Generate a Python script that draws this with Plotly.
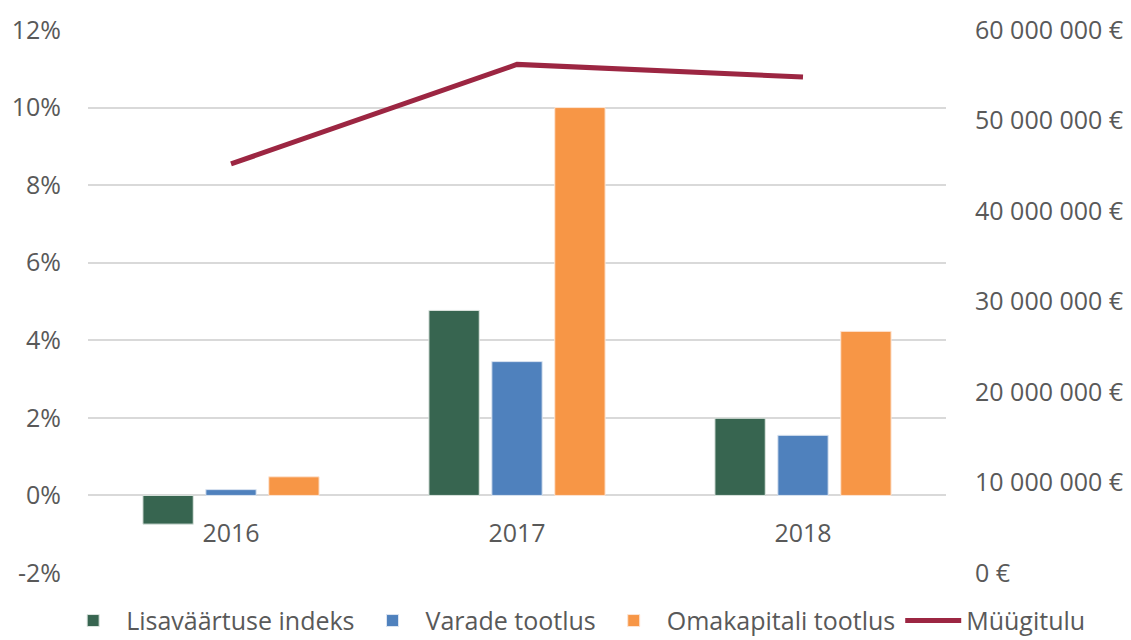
import plotly.graph_objects as go

years = ["2016", "2017", "2018"]
lisavaartuse = [-0.74, 4.77, 1.99]
varade = [0.15, 3.45, 1.55]
omakapitali = [0.48, 10.0, 4.23]
myygitulu = [45.2e6, 56.2e6, 54.8e6]

left_vals = [-2, 0, 2, 4, 6, 8, 10, 12]
left_text = ["-2%", "0%", "2%", "4%", "6%", "8%", "10%", "12%"]
right_vals = [0, 10e6, 20e6, 30e6, 40e6, 50e6, 60e6]
right_text = ["0 €", "10 000 000 €", "20 000 000 €", "30 000 000 €",
              "40 000 000 €", "50 000 000 €", "60 000 000 €"]

FONT = "Open Sans"
TXT = "#595959"
FS = 25

fig = go.Figure()
fig.add_trace(go.Bar(x=years, y=lisavaartuse, name="Lisaväärtuse indeks",
                     marker=dict(color="#376550", line=dict(color="#DDE5E0", width=1))))
fig.add_trace(go.Bar(x=years, y=varade, name="Varade tootlus",
                     marker=dict(color="#4F81BD", line=dict(color="#DCE5F1", width=1))))
fig.add_trace(go.Bar(x=years, y=omakapitali, name="Omakapitali tootlus",
                     marker=dict(color="#F79646", line=dict(color="#FDE5D4", width=1))))
fig.add_trace(go.Scatter(x=years, y=myygitulu, name="Müügitulu", yaxis="y2",
                         mode="lines", line=dict(color="#9C2642", width=5)))

fig.update_layout(
    width=1131, height=640,
    margin=dict(l=88, r=185, t=30, b=67, autoexpand=False),
    paper_bgcolor="white", plot_bgcolor="white",
    font=dict(family=FONT, size=FS, color=TXT),
    barmode="group", bargap=0.34, bargroupgap=0.2,
    xaxis=dict(type="category", anchor="free", position=2/14,
               showline=False, showgrid=False, zeroline=False,
               ticks="", ticklabelstandoff=21,
               tickfont=dict(family=FONT, size=FS, color=TXT)),
    yaxis=dict(range=[-2, 12], tickvals=left_vals, ticktext=left_text,
               showgrid=True, gridcolor="#D9D9D9", gridwidth=1.5,
               zeroline=False, showline=False, ticks="",
               ticklabelstandoff=26,
               tickfont=dict(family=FONT, size=FS, color=TXT)),
    yaxis2=dict(range=[0, 60e6], overlaying="y", side="right",
                tickvals=right_vals, ticktext=right_text,
                showgrid=False, zeroline=False, showline=False, ticks="",
                ticklabelstandoff=28,
                tickfont=dict(family=FONT, size=FS, color=TXT)),
    legend=dict(orientation="h", x=1.168, xanchor="right",
                y=-0.088, yanchor="middle",
                font=dict(family=FONT, size=25, color=TXT),
                itemwidth=56, tracegroupgap=0),
    showlegend=True,
)

fig.write_html("out.html", config={"displayModeBar": False},
               post_script="document.body.style.margin='0';")
